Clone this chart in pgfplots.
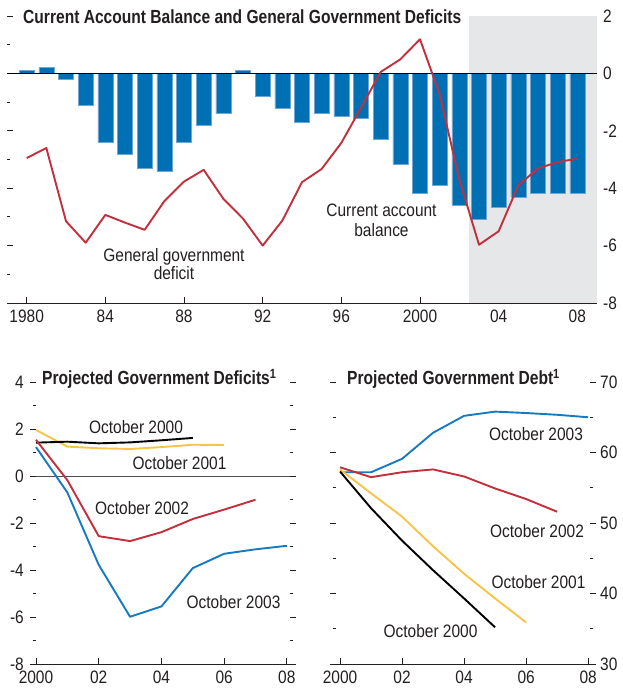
\documentclass[border=0pt]{standalone}
\usepackage{fontspec}
\setmainfont{Liberation Sans}[FakeStretch=0.86]
\newfontfamily\titlefont{Liberation Sans}[FakeStretch=0.82]
\usepackage{pgfplots}
\pgfplotsset{compat=1.18}
\definecolor{barblue}{RGB}{0,112,180}
\definecolor{baredge}{RGB}{110,165,212}
\definecolor{shadegray}{RGB}{230,231,233}
\definecolor{lred}{RGB}{193,48,60}
\definecolor{lblue}{RGB}{22,122,192}
\definecolor{lyellow}{RGB}{248,196,72}
\definecolor{txt}{RGB}{35,31,32}
\newcommand{\fs}{\fontsize{18}{20}\selectfont}
\newcommand{\ts}{\titlefont\bfseries\fontsize{19}{21}\selectfont}
\pgfplotsset{
  imf/.style={
    scale only axis,
    axis line style={draw=none},
    tick style={txt, line width=0.8pt},
    major tick length=6pt,
    minor tick length=3.5pt,
    ticklabel style={font=\fs, text=txt, inner sep=1pt},
    xtick pos=left,
    ytick pos=both,
    clip=false,
  }
}
\pgfplotstableread{
year ca gg
1980 0.1 -2.95
1981 0.2 -2.6
1982 -0.2 -5.15
1983 -1.1 -5.9
1984 -2.4 -4.93
1985 -2.8 -5.2
1986 -3.3 -5.45
1987 -3.4 -4.45
1988 -2.4 -3.77
1989 -1.8 -3.36
1990 -1.4 -4.37
1991 0.1 -5.06
1992 -0.8 -6.0
1993 -1.2 -5.13
1994 -1.7 -3.79
1995 -1.4 -3.33
1996 -1.5 -2.42
1997 -1.55 -1.2
1998 -2.3 0.05
1999 -3.15 0.49
2000 -4.17 1.19
2001 -3.88 -0.73
2002 -4.58 -3.7
2003 -5.07 -5.97
2004 -4.67 -5.5
2005 -4.3 -3.9
2006 -4.16 -3.31
2007 -4.17 -3.09
2008 -4.16 -2.97
}\topdata
\begin{document}
\begin{tikzpicture}
\path (0pt,0pt) rectangle (622pt,689pt);
% ---------------- top panel ----------------
\begin{axis}[imf,
  at={(7pt,386pt)}, anchor=south west,
  width=590pt, height=287pt,
  xmin=1979, xmax=2009, ymin=-8, ymax=2,
  tick align=inside,
  xtick={1980,1984,...,2008},
  xticklabels={1980,84,88,92,96,2000,04,08},
  minor x tick num=3,
  xticklabel style={yshift=-6pt},
  ytick={-8,-6,...,2},
  yticklabels={-8,-6,-4,-2,0,2},
  minor y tick num=1,
  yticklabel pos=right,
  yticklabel style={xshift=5pt},
]
\fill[shadegray] (axis cs:2002.5,-8) rectangle (axis cs:2009,2);
\addplot[ybar, bar width=0.76, fill=barblue, draw=baredge, line width=0.4pt] table[x=year,y=ca] {\topdata};
\draw[black, line width=0.8pt] (axis cs:1979,0) -- (axis cs:2009,0);
\addplot[lred, line width=1.9pt, line join=round, no markers] table[x=year,y=gg] {\topdata};
\draw[txt, line width=0.9pt] (rel axis cs:0,0) -- (rel axis cs:1,0);
\end{axis}
\node[anchor=base west, inner sep=0pt, text=txt] at (23pt,665pt) {\ts Current Account Balance and General Government Deficits};
\node[anchor=base, inner sep=0pt, text=txt] at (174pt,427pt) {\fs General government};
\node[anchor=base, inner sep=0pt, text=txt] at (174pt,409pt) {\fs deficit};
\node[anchor=base, inner sep=0pt, text=txt] at (381.5pt,472pt) {\fs Current account};
\node[anchor=base, inner sep=0pt, text=txt] at (381.5pt,452pt) {\fs balance};
% ---------------- bottom left ----------------
\begin{axis}[imf,
  at={(36pt,25pt)}, anchor=south west,
  width=254pt, height=282pt,
  xmin=2000, xmax=2008.1, ymin=-8, ymax=4,
  tick align=outside,
  major x tick style={yshift=6pt},
  minor x tick style={yshift=3.5pt},
  xtick={2000,2002,...,2008},
  xticklabels={2000,02,04,06,08},
  minor x tick num=1,
  ytick={-8,-6,...,4},
  yticklabels={-8,-6,-4,-2,0,2,4},
  minor y tick num=1,
  yticklabel pos=left,
  yticklabel style={xshift=-5pt},
]
\draw[txt!80, line width=0.6pt] (axis cs:2000,0) -- (axis cs:2008.1,0);
\addplot[lyellow, line width=1.9pt, line join=round, no markers] coordinates {(2000,1.96) (2001,1.25) (2002,1.18) (2003,1.15) (2004,1.23) (2005,1.33) (2006,1.32)};
\addplot[black, line width=1.9pt, line join=round, no markers] coordinates {(2000,1.42) (2001,1.46) (2002,1.39) (2003,1.43) (2004,1.52) (2005,1.62)};
\addplot[lred, line width=1.9pt, line join=round, no markers] coordinates {(2000,1.54) (2001,-0.18) (2002,-2.56) (2003,-2.77) (2004,-2.39) (2005,-1.83) (2006,-1.43) (2007,-1.01)};
\addplot[lblue, line width=1.9pt, line join=round, no markers] coordinates {(2000,1.23) (2001,-0.70) (2002,-3.78) (2003,-5.99) (2004,-5.55) (2005,-3.92) (2006,-3.31) (2007,-3.12) (2008,-2.97)};
\draw[txt, line width=0.9pt] (rel axis cs:0,0) -- (rel axis cs:1,0);
\end{axis}
\node[anchor=base west, inner sep=0pt, text=txt] at (42pt,304pt) {\ts Projected Government Deficits\textsuperscript{1}};
\node[anchor=base, inner sep=0pt, text=txt] at (136pt,255pt) {\fs October 2000};
\node[anchor=base, inner sep=0pt, text=txt] at (179.5pt,219pt) {\fs October 2001};
\node[anchor=base, inner sep=0pt, text=txt] at (142pt,174pt) {\fs October 2002};
\node[anchor=base, inner sep=0pt, text=txt] at (233.5pt,80pt) {\fs October 2003};
% ---------------- bottom right ----------------
\begin{axis}[imf,
  at={(336pt,25pt)}, anchor=south west,
  width=254pt, height=282pt,
  xmin=1999.87, xmax=2008.06, ymin=30, ymax=70,
  tick align=outside,
  major x tick style={yshift=6pt},
  minor x tick style={yshift=3.5pt},
  xtick={2000,2002,...,2008},
  xticklabels={2000,02,04,06,08},
  minor x tick num=1,
  ytick={30,40,...,70},
  minor y tick num=1,
  yticklabel pos=right,
  yticklabels={30,40,50,60,70},
  yticklabel style={xshift=3pt},
]
\addplot[lblue, line width=1.9pt, line join=round, no markers] coordinates {(2000,57.2) (2001,57.2) (2002,59.1) (2003,62.8) (2004,65.2) (2005,65.8) (2006,65.6) (2007,65.35) (2008,65.0)};
\addplot[lred, line width=1.9pt, line join=round, no markers] coordinates {(2000,57.9) (2001,56.5) (2002,57.2) (2003,57.6) (2004,56.6) (2005,54.9) (2006,53.4) (2007,51.6)};
\addplot[lyellow, line width=1.9pt, line join=round, no markers] coordinates {(2000,57.6) (2001,54.2) (2002,50.9) (2003,46.7) (2004,42.8) (2005,39.3) (2006,35.9)};
\addplot[black, line width=1.9pt, line join=round, no markers] coordinates {(2000,57.3) (2001,52.1) (2002,47.5) (2003,43.3) (2004,39.3) (2005,35.2)};
\draw[txt, line width=0.9pt] ([xshift=-5pt]rel axis cs:0,0) -- (rel axis cs:1,0);
\end{axis}
\node[anchor=base west, inner sep=0pt, text=txt] at (347pt,304pt) {\ts Projected Government Debt\textsuperscript{1}};
\node[anchor=base, inner sep=0pt, text=txt] at (536pt,248pt) {\fs October 2003};
\node[anchor=base, inner sep=0pt, text=txt] at (537pt,151pt) {\fs October 2002};
\node[anchor=base, inner sep=0pt, text=txt] at (538.5pt,100pt) {\fs October 2001};
\node[anchor=base, inner sep=0pt, text=txt] at (430.5pt,52pt) {\fs October 2000};
\end{tikzpicture}
\end{document}
